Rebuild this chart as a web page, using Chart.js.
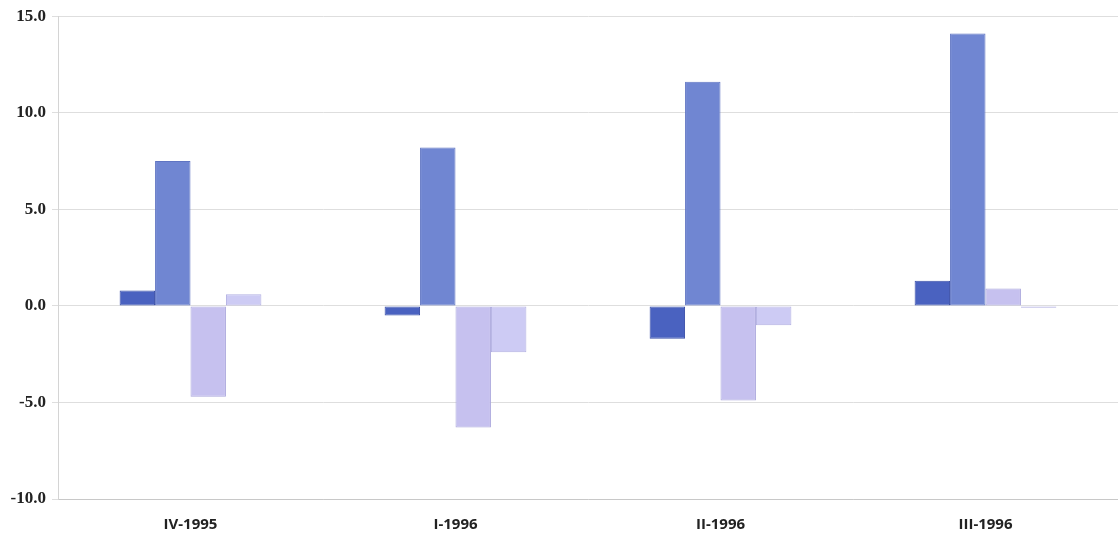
<!DOCTYPE html>
<html>
<head>
<meta charset="utf-8">
<script src="https://cdn.jsdelivr.net/npm/chart.js@4"></script>
<style>
  html, body { margin: 0; padding: 0; background: #ffffff; }
  #wrap { width: 1118px; height: 540px; position: relative; }
</style>
</head>
<body>
<div id="wrap"><canvas id="chart"></canvas></div>
<script>
// Quarterly periods along the x axis
const categories = ['IV-1995', 'I-1996', 'II-1996', 'III-1996'];

// Four series, one bar each per quarter
const series1 = [0.8, -0.5, -1.7, 1.3];
const series2 = [7.5, 8.2, 11.6, 14.1];
const series3 = [-4.7, -6.3, -4.9, 0.9];
const series4 = [0.6, -2.4, -1.0, -0.1];

// Value axis
const yTicks = [-10, -5, 0, 5, 10, 15];

const fills = ['#4a62c0', '#7086d2', '#c6c1ef', '#cdcbf4'];
const edges = ['#3b50a8', '#5f74c2', '#aaa6dc', '#b3b1e2'];

const makeSet = (label, data, i) => ({
  label,
  data,
  backgroundColor: fills[i],
  borderColor: edges[i],
  borderWidth: 1,
  borderSkipped: false,
  barPercentage: 1.0,
  categoryPercentage: 0.535
});

new Chart(document.getElementById('chart'), {
  type: 'bar',
  data: {
    labels: categories,
    datasets: [
      makeSet('Serie 1', series1, 0),
      makeSet('Serie 2', series2, 1),
      makeSet('Serie 3', series3, 2),
      makeSet('Serie 4', series4, 3)
    ]
  },
  options: {
    responsive: true,
    maintainAspectRatio: false,
    animation: false,
    layout: { padding: { top: 16, right: 0, bottom: 4, left: 0 } },
    plugins: {
      legend: { display: false },
      tooltip: { enabled: false }
    },
    scales: {
      x: {
        grid: { display: false },
        border: { display: true, color: '#c8c8c8', width: 1 },
        afterFit: (axis) => { axis.height = 37; },
        ticks: {
          color: '#222222',
          padding: 9,
          font: { family: 'Open Sans', size: 15, weight: 'bold' }
        }
      },
      y: {
        min: -10,
        max: 15,
        afterBuildTicks: (axis) => { axis.ticks = yTicks.map(v => ({ value: v })); },
        afterFit: (axis) => { axis.width = 58; },
        grid: { color: '#dedede', lineWidth: 1, drawTicks: true, tickLength: 6, tickColor: '#dedede' },
        border: { display: true, color: '#d4d4d4', width: 1 },
        ticks: {
          color: '#222222',
          padding: 6,
          font: { family: 'Liberation Serif', size: 17, weight: 'bold' },
          callback: (v) => Number(v).toFixed(1)
        }
      }
    }
  }
});
</script>
</body>
</html>
